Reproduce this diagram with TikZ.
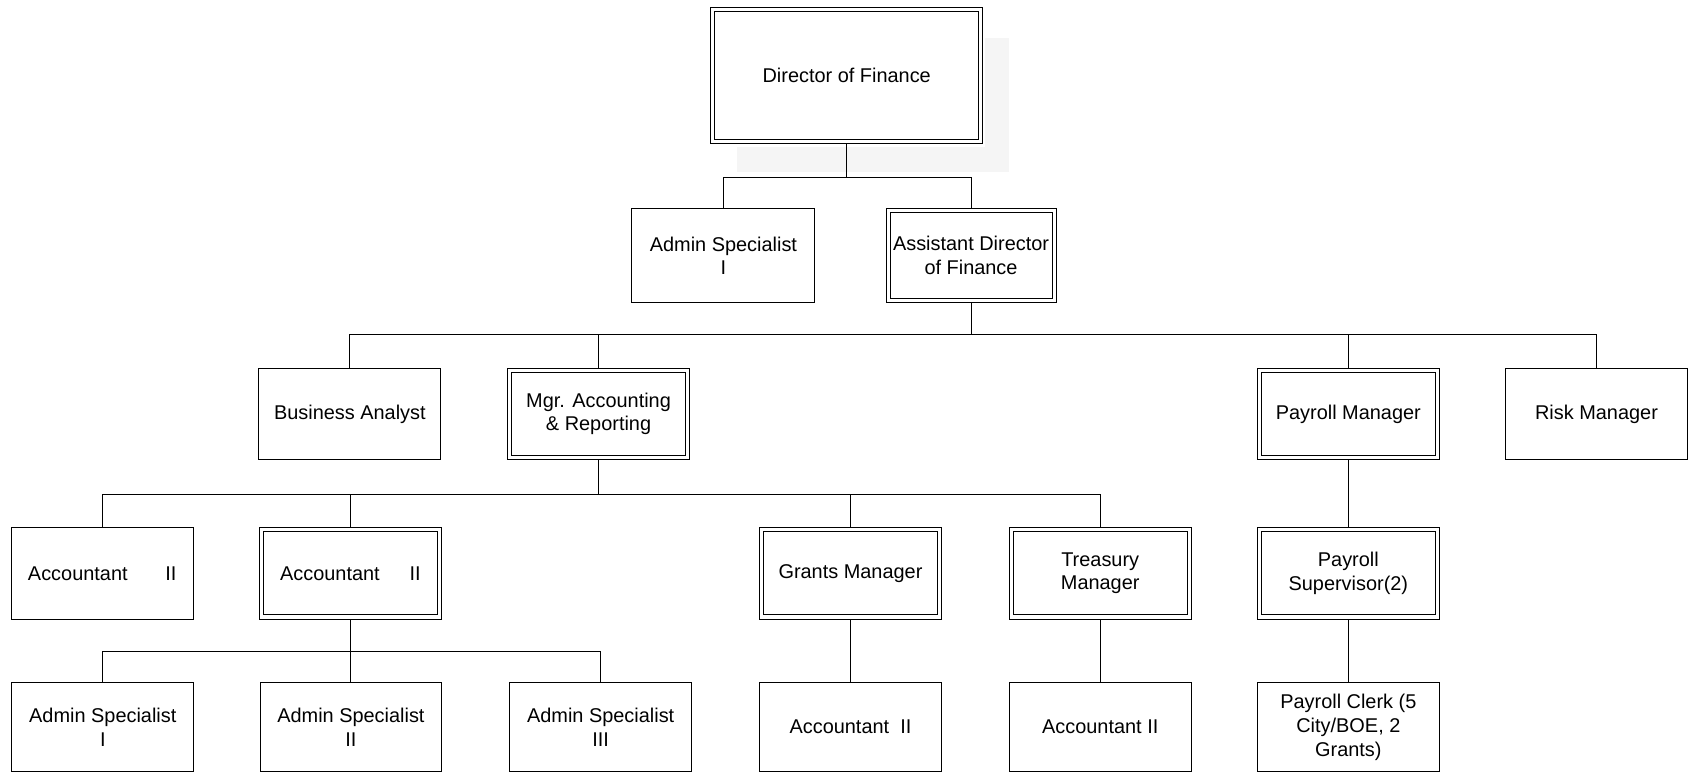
\documentclass[tikz,border=0pt]{standalone}
\usepackage{fontspec}
\setmainfont{Liberation Sans}
\begin{document}
\begin{tikzpicture}[x=1pt,y=-1pt,
  box/.style={draw=black, line width=0.9pt, fill=white, inner sep=0pt, align=center,
    minimum width=169pt, minimum height=85pt,
    font=\fontsize{18.5}{22}\selectfont},
  dbox/.style={box, path picture={\draw[line width=0.9pt]
      ([xshift=3.8pt,yshift=-3.8pt]path picture bounding box.north west) rectangle
      ([xshift=-3.8pt,yshift=3.8pt]path picture bounding box.south east);}},
  link/.style={draw=black, line width=0.9pt},
  shade/.style={fill=black!4, draw=none}]
\useasboundingbox (0,0) rectangle (1568,718);
% faint scan shadow near the top box
\fill[shade] (915,35) rectangle (937,160);
\fill[shade] (685,137) rectangle (937,160);
% level 0
\node[dbox, minimum width=253pt, minimum height=126pt] (dir) at (786.5,70) {Director of Finance};
% level 1
\node[box, minimum width=170pt, minimum height=87pt] (adm1) at (672,237.5) {Admin Specialist\\I};
\node[dbox, minimum width=158pt, minimum height=87pt] (asst) at (902,237.5) {Assistant Director\\of Finance};
% level 2
\node[box] (ba) at (325,384.5) {Business Analyst};
\node[dbox] (mgr) at (556,384.5) {Mgr. Accounting\\\& Reporting};
\node[dbox] (pm) at (1252.5,384.5) {Payroll Manager};
\node[box] (risk) at (1483,384.5) {Risk Manager};
% level 3
\node[box] (acc1) at (95,532.5) {Accountant\hspace{1.9em}II};
\node[dbox] (acc2) at (325.5,532.5) {Accountant\hspace{1.5em}II};
\node[dbox] (grants) at (790,532.5) {Grants Manager};
\node[dbox] (treas) at (1022,532.5) {Treasury\\Manager};
\node[dbox] (psup) at (1252.5,532.5) {Payroll\\Supervisor(2)};
% level 4
\node[box, minimum height=83pt] (as1) at (95.5,675.5) {Admin Specialist\\I};
\node[box, minimum height=83pt] (as2) at (326,675.5) {Admin Specialist\\II};
\node[box, minimum height=83pt] (as3) at (558,675.5) {Admin Specialist\\III};
\node[box, minimum height=83pt] (acc3) at (790,675.5) {Accountant\ \ II};
\node[box, minimum height=83pt] (acc4) at (1022,675.5) {Accountant II};
\node[box, minimum height=83pt] (pclerk) at (1252.5,675.5) {Payroll Clerk (5\\City/BOE, 2\\Grants)};
% connectors
\coordinate (b0) at (dir.south |- 0,165);
\draw[link] (dir.south) -- (b0);
\draw[link] (b0) -| (adm1.north);
\draw[link] (b0) -| (asst.north);
\coordinate (b1) at (asst.south |- 0,311);
\draw[link] (asst.south) -- (b1);
\draw[link] (b1) -| (ba.north);
\draw[link] (b1) -| (risk.north);
\draw[link] (mgr.north) -- (mgr.north |- b1);
\draw[link] (pm.north) -- (pm.north |- b1);
\coordinate (b2) at (mgr.south |- 0,459);
\draw[link] (mgr.south) -- (b2);
\draw[link] (b2) -| (acc1.north);
\draw[link] (b2) -| (treas.north);
\draw[link] (acc2.north) -- (acc2.north |- b2);
\draw[link] (grants.north) -- (grants.north |- b2);
\coordinate (b3) at (acc2.south |- 0,605);
\draw[link] (acc2.south) -- (b3);
\draw[link] (b3) -| (as1.north);
\draw[link] (b3) -| (as3.north);
\draw[link] (as2.north) -- (as2.north |- b3);
\draw[link] (grants.south) -- (acc3.north);
\draw[link] (treas.south) -- (acc4.north);
\draw[link] (pm.south) -- (psup.north);
\draw[link] (psup.south) -- (pclerk.north);
\end{tikzpicture}
\end{document}
